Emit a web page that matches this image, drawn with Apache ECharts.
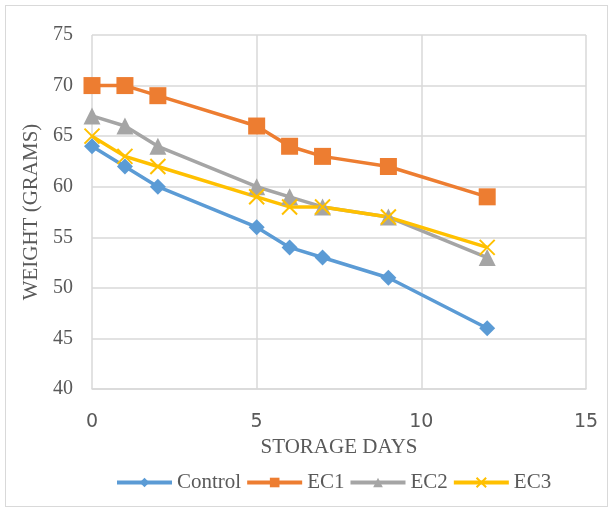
<!DOCTYPE html>
<html>
<head>
<meta charset="utf-8">
<script src="https://cdn.jsdelivr.net/npm/echarts@6/dist/echarts.min.js"></script>
<style>
  html, body { margin: 0; padding: 0; background: #fff; }
  #frame { position: absolute; left: 5px; top: 5px; width: 603px; height: 502px; border: 1px solid #d9d9d9; box-sizing: border-box; }
  #chart { position: absolute; left: 0; top: 0; width: 614px; height: 509px; }
</style>
</head>
<body>
<div id="frame"></div>
<div id="chart"></div>
<script>
const days = [0, 1, 2, 5, 6, 7, 9, 12];
const control = [64, 62, 60, 56, 54, 53, 51, 46];
const ec1 = [70, 70, 69, 66, 64, 63, 62, 59];
const ec2 = [67, 66, 64, 60, 59, 58, 57, 53];
const ec3 = [65, 63, 62, 59, 58, 58, 57, 54];

const pairs = vals => days.map((d, i) => [d, vals[i]]);
const serif = '"Liberation Serif", "Times New Roman", serif';
const crossPath = 'path://M0,0L10,10M10,0L0,10';

function lineSeries(name, vals, color, symbol, size, extra) {
  return Object.assign({
    name: name,
    type: 'line',
    data: pairs(vals),
    symbol: symbol,
    symbolSize: size,
    lineStyle: { color: color, width: 3.5 },
    itemStyle: { color: color },
    emphasis: { disabled: true }
  }, extra || {});
}

const chart = echarts.init(document.getElementById('chart'), null, { renderer: 'canvas' });
chart.setOption({
  animation: false,
  backgroundColor: 'transparent',
  grid: { left: 92, top: 35, right: 28, bottom: 120, containLabel: false },
  xAxis: {
    type: 'value', min: 0, max: 15, interval: 5,
    name: 'STORAGE DAYS', nameLocation: 'middle', nameGap: 47,
    nameTextStyle: { fontFamily: serif, fontSize: 21, color: '#595959' },
    axisLine: { show: true, lineStyle: { color: '#d9d9d9', width: 1.5 } },
    axisTick: { show: false },
    axisLabel: { fontFamily: '"DejaVu Sans", sans-serif', fontSize: 19, color: '#595959', margin: 24 },
    splitLine: { show: true, lineStyle: { color: '#d9d9d9', width: 1.5 } }
  },
  yAxis: {
    type: 'value', min: 40, max: 75, interval: 5,
    name: 'WEIGHT (GRAMS)', nameLocation: 'middle', nameGap: 38,
    nameTextStyle: { fontFamily: serif, fontSize: 21, color: '#595959' },
    axisLine: { show: false },
    axisTick: { show: false },
    axisLabel: { fontFamily: serif, fontSize: 20, color: '#595959', margin: 19 },
    splitLine: { show: true, lineStyle: { color: '#d9d9d9', width: 1.5 } }
  },
  legend: {
    bottom: 11, left: 110,
    itemWidth: 55, itemHeight: 12, itemGap: 4,
    lineStyle: { width: 4 },
    textStyle: { fontFamily: serif, fontSize: 21, color: '#595959' },
    data: ['Control', 'EC1', 'EC2', 'EC3']
  },
  series: [
    lineSeries('Control', control, '#5B9BD5', 'diamond', 16),
    lineSeries('EC1', ec1, '#ED7D31', 'rect', 17),
    lineSeries('EC2', ec2, '#A5A5A5', 'triangle', 17),
    lineSeries('EC3', ec3, '#FFC000', crossPath, 15, {
      itemStyle: { color: 'none', borderColor: '#FFC000', borderWidth: 2 }
    })
  ]
});
</script>
</body>
</html>
